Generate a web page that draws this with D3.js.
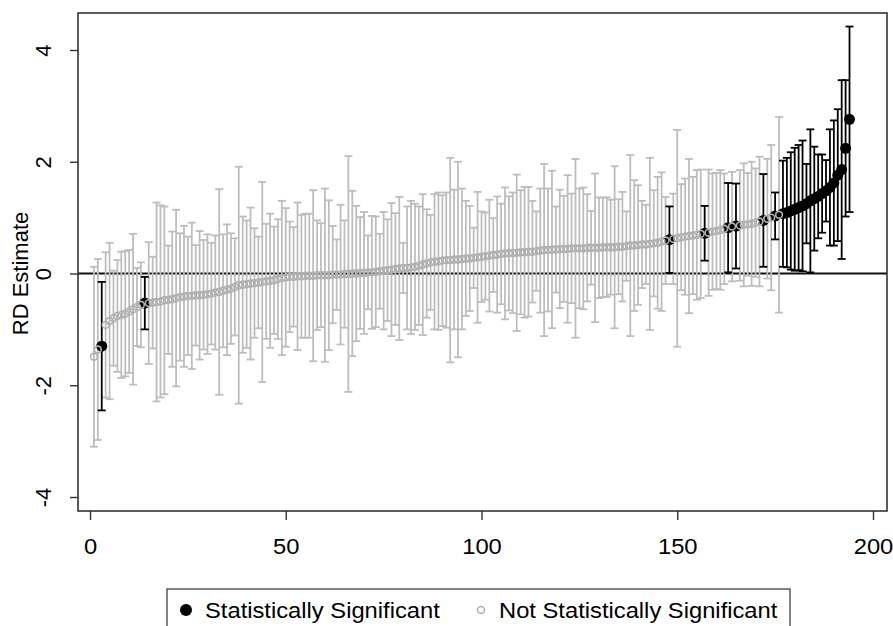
<!DOCTYPE html>
<html>
<head>
<meta charset="utf-8">
<script src="https://cdn.jsdelivr.net/npm/d3@7"></script>
<style>
  body { margin: 0; background: #fff; }
  svg { display: block; font-family: "Liberation Sans", Arial, sans-serif; }
</style>
</head>
<body>
<svg id="chart" width="893" height="626"></svg>
<script>
// RD point estimates, sorted from smallest to largest (rank 1..N)
const estimates = [
  -1.49, -1.36, -1.30, -0.92, -0.85, -0.80, -0.76, -0.74, -0.72, -0.68,
  -0.64, -0.60, -0.56, -0.53, -0.53, -0.52, -0.51, -0.50, -0.48, -0.47,
  -0.46, -0.44, -0.42, -0.41, -0.40, -0.40, -0.39, -0.39, -0.38, -0.37,
  -0.36, -0.34, -0.33, -0.31, -0.29, -0.27, -0.24, -0.21, -0.20, -0.19,
  -0.18, -0.17, -0.16, -0.15, -0.14, -0.13, -0.12, -0.10, -0.08, -0.07,
  -0.06, -0.06, -0.05, -0.05, -0.04, -0.04, -0.04, -0.03, -0.03, -0.03,
  -0.03, -0.02, -0.02, -0.02, -0.01, -0.01, 0.00, 0.00, 0.01, 0.01,
  0.02, 0.02, 0.03, 0.04, 0.05, 0.06, 0.07, 0.08, 0.09, 0.10,
  0.10, 0.11, 0.12, 0.14, 0.16, 0.18, 0.20, 0.21, 0.22, 0.23,
  0.24, 0.24, 0.25, 0.25, 0.26, 0.27, 0.27, 0.28, 0.29, 0.30,
  0.31, 0.32, 0.33, 0.34, 0.35, 0.36, 0.36, 0.37, 0.37, 0.38,
  0.38, 0.39, 0.39, 0.40, 0.41, 0.42, 0.42, 0.43, 0.43, 0.44,
  0.44, 0.44, 0.45, 0.45, 0.45, 0.45, 0.46, 0.46, 0.46, 0.46,
  0.47, 0.47, 0.47, 0.47, 0.48, 0.48, 0.49, 0.50, 0.50, 0.51,
  0.52, 0.52, 0.53, 0.54, 0.55, 0.57, 0.59, 0.605, 0.62, 0.63,
  0.65, 0.66, 0.67, 0.68, 0.69, 0.71, 0.72, 0.73, 0.75, 0.76,
  0.78, 0.80, 0.82, 0.84, 0.85, 0.86, 0.87, 0.88, 0.89, 0.91,
  0.93, 0.95, 0.98, 1.00, 1.03, 1.05, 1.07, 1.09, 1.12, 1.15,
  1.18, 1.21, 1.25, 1.30, 1.34, 1.38, 1.43, 1.48, 1.54, 1.62,
  1.76, 1.86, 2.24, 2.76
];

// Half-width of each 95% confidence interval
const halfWidths = [
  1.61, 1.62, 1.15, 1.30, 1.40, 0.85, 1.00, 1.13, 1.12, 1.10,
  1.35, 0.70, 0.76, 0.47, 1.09, 0.82, 1.78, 1.72, 1.68, 0.97,
  1.21, 1.58, 1.14, 1.26, 1.06, 1.31, 0.90, 1.15, 0.98, 1.07,
  0.91, 1.02, 1.84, 1.01, 1.17, 0.99, 0.87, 2.12, 1.22, 1.14,
  1.36, 0.98, 0.82, 1.79, 1.03, 1.20, 0.96, 1.07, 1.38, 1.24,
  0.99, 0.89, 1.32, 1.10, 1.11, 1.11, 1.53, 0.98, 0.93, 1.55,
  1.34, 0.87, 0.63, 1.25, 0.96, 2.11, 1.48, 1.21, 1.00, 1.09,
  0.66, 1.01, 0.99, 0.67, 1.05, 0.91, 1.19, 1.00, 1.28, 0.45,
  1.10, 1.19, 1.13, 1.06, 1.26, 0.97, 0.85, 1.21, 1.23, 1.17,
  1.21, 1.83, 1.25, 1.75, 1.26, 1.03, 0.94, 0.54, 1.17, 0.81,
  0.78, 1.00, 0.66, 1.04, 0.90, 1.18, 1.02, 1.08, 1.40, 1.11,
  1.17, 1.16, 0.91, 0.71, 1.11, 1.54, 1.10, 1.41, 0.77, 1.06,
  0.95, 1.32, 0.98, 1.60, 1.07, 1.09, 0.96, 0.66, 1.33, 0.90,
  0.89, 0.89, 0.85, 1.45, 0.85, 0.98, 0.62, 1.62, 1.17, 1.07,
  0.78, 0.71, 1.54, 0.95, 1.18, 1.24, 0.78, 0.595, 0.81, 1.94,
  0.95, 1.04, 1.38, 1.05, 1.16, 1.15, 0.49, 1.13, 1.04, 1.04,
  1.07, 0.99, 0.80, 0.98, 0.76, 0.99, 1.10, 0.92, 1.11, 0.97,
  1.16, 0.83, 1.07, 1.30, 0.42, 1.75, 0.95, 0.98, 1.05, 1.10,
  1.12, 1.17, 0.71, 1.28, 0.93, 0.75, 0.70, 0.55, 1.04, 1.12,
  1.18, 1.60, 1.22, 1.66
];

const xTickValues = [0, 50, 100, 150, 200];
const yTickValues = [-4, -2, 0, 2, 4];
const legendLabels = ["Statistically Significant", "Not Statistically Significant"];

const rows = estimates.map((e, i) => ({
  rank: i + 1,
  est: e,
  lo: e - halfWidths[i],
  hi: e + halfWidths[i]
}));
rows.forEach(d => { d.sig = d.lo > 0 || d.hi < 0; });

const GREY = "#bdbdbd";
const GREY_MARK = "#b0b0b0";
const BLACK = "#000";
const FONT = 22;
const STRETCH = 1.08;

const svg = d3.select("#chart");
const frame = { left: 78, right: 887, top: 13, bottom: 511 };

const x = d3.scaleLinear().domain([0, 200]).range([90, 873]);
const y = d3.scaleLinear().domain([-4, 4]).range([497, 50]);

// reference line at zero
svg.append("line")
  .attr("x1", frame.left).attr("x2", frame.right)
  .attr("y1", y(0)).attr("y2", y(0))
  .attr("stroke", "#111").attr("stroke-width", 1.8);

// confidence-interval caps: grey first, significant ones on top
function drawBars(data, color, width) {
  const g = svg.append("g").attr("stroke", color).attr("stroke-width", width).attr("fill", "none");
  const cap = 4;
  const item = g.selectAll("g").data(data).join("g");
  item.append("line")
    .attr("x1", d => x(d.rank)).attr("x2", d => x(d.rank))
    .attr("y1", d => y(d.lo)).attr("y2", d => y(d.hi));
  item.append("line")
    .attr("x1", d => x(d.rank) - cap).attr("x2", d => x(d.rank) + cap)
    .attr("y1", d => y(d.hi)).attr("y2", d => y(d.hi));
  item.append("line")
    .attr("x1", d => x(d.rank) - cap).attr("x2", d => x(d.rank) + cap)
    .attr("y1", d => y(d.lo)).attr("y2", d => y(d.lo));
}
drawBars(rows.filter(d => !d.sig), GREY, 1.8);
drawBars(rows.filter(d => d.sig), BLACK, 1.8);

// point estimates
svg.append("g").selectAll("circle")
  .data(rows.filter(d => d.sig)).join("circle")
  .attr("cx", d => x(d.rank)).attr("cy", d => y(d.est))
  .attr("r", 5.5).attr("fill", BLACK);

svg.append("g").selectAll("circle")
  .data(rows.filter(d => !d.sig)).join("circle")
  .attr("cx", d => x(d.rank)).attr("cy", d => y(d.est))
  .attr("r", 3.4).attr("fill", "none")
  .attr("stroke", GREY_MARK).attr("stroke-width", 1.6);

// plot frame
svg.append("rect")
  .attr("x", frame.left).attr("y", frame.top)
  .attr("width", frame.right - frame.left).attr("height", frame.bottom - frame.top)
  .attr("fill", "none").attr("stroke", "#333").attr("stroke-width", 1.6);

// x axis
const xAxis = svg.append("g")
  .attr("transform", `translate(0,${frame.bottom})`)
  .call(d3.axisBottom(x).tickValues(xTickValues).tickSize(9).tickFormat(d3.format("d")));
xAxis.select(".domain").remove();
xAxis.selectAll(".tick line").attr("stroke", "#333").attr("stroke-width", 1.4);
xAxis.selectAll(".tick text")
  .attr("y", 0).attr("dy", 0)
  .attr("transform", `translate(0,43) scale(${STRETCH},1)`)
  .attr("font-size", FONT).attr("fill", "#000")
  .attr("font-family", '"Liberation Sans", Arial, sans-serif');

// y axis with rotated labels
const yAxis = svg.append("g")
  .attr("transform", `translate(${frame.left},0)`)
  .call(d3.axisLeft(y).tickValues(yTickValues).tickSize(8).tickFormat(d3.format("d")));
yAxis.select(".domain").remove();
yAxis.selectAll(".tick line").attr("stroke", "#333").attr("stroke-width", 1.4);
yAxis.selectAll(".tick text")
  .attr("x", 0).attr("y", 0).attr("dy", 0)
  .attr("text-anchor", "middle")
  .attr("transform", "translate(-27,0) rotate(-90)")
  .attr("font-size", FONT).attr("fill", "#000")
  .attr("font-family", '"Liberation Sans", Arial, sans-serif')
  .text(d => String(d).replace("\u2212", "-"));

svg.append("text")
  .attr("transform", `translate(28,${y(0)}) rotate(-90)`)
  .attr("text-anchor", "middle")
  .attr("font-size", FONT)
  .attr("fill", "#000")
  .text("RD Estimate");

// legend
const legend = svg.append("g");
legend.append("rect")
  .attr("x", 167).attr("y", 589).attr("width", 623).attr("height", 60)
  .attr("fill", "#fff").attr("stroke", "#333").attr("stroke-width", 1.2);
legend.append("circle").attr("cx", 186).attr("cy", 610).attr("r", 6).attr("fill", BLACK);
legend.append("text")
  .attr("transform", `translate(205,618) scale(${STRETCH},1)`)
  .attr("font-size", FONT).text(legendLabels[0]);
legend.append("circle").attr("cx", 481).attr("cy", 610).attr("r", 3.5)
  .attr("fill", "none").attr("stroke", GREY_MARK).attr("stroke-width", 1.5);
legend.append("text")
  .attr("transform", `translate(499,618) scale(${STRETCH},1)`)
  .attr("font-size", FONT).text(legendLabels[1]);
</script>
</body>
</html>
